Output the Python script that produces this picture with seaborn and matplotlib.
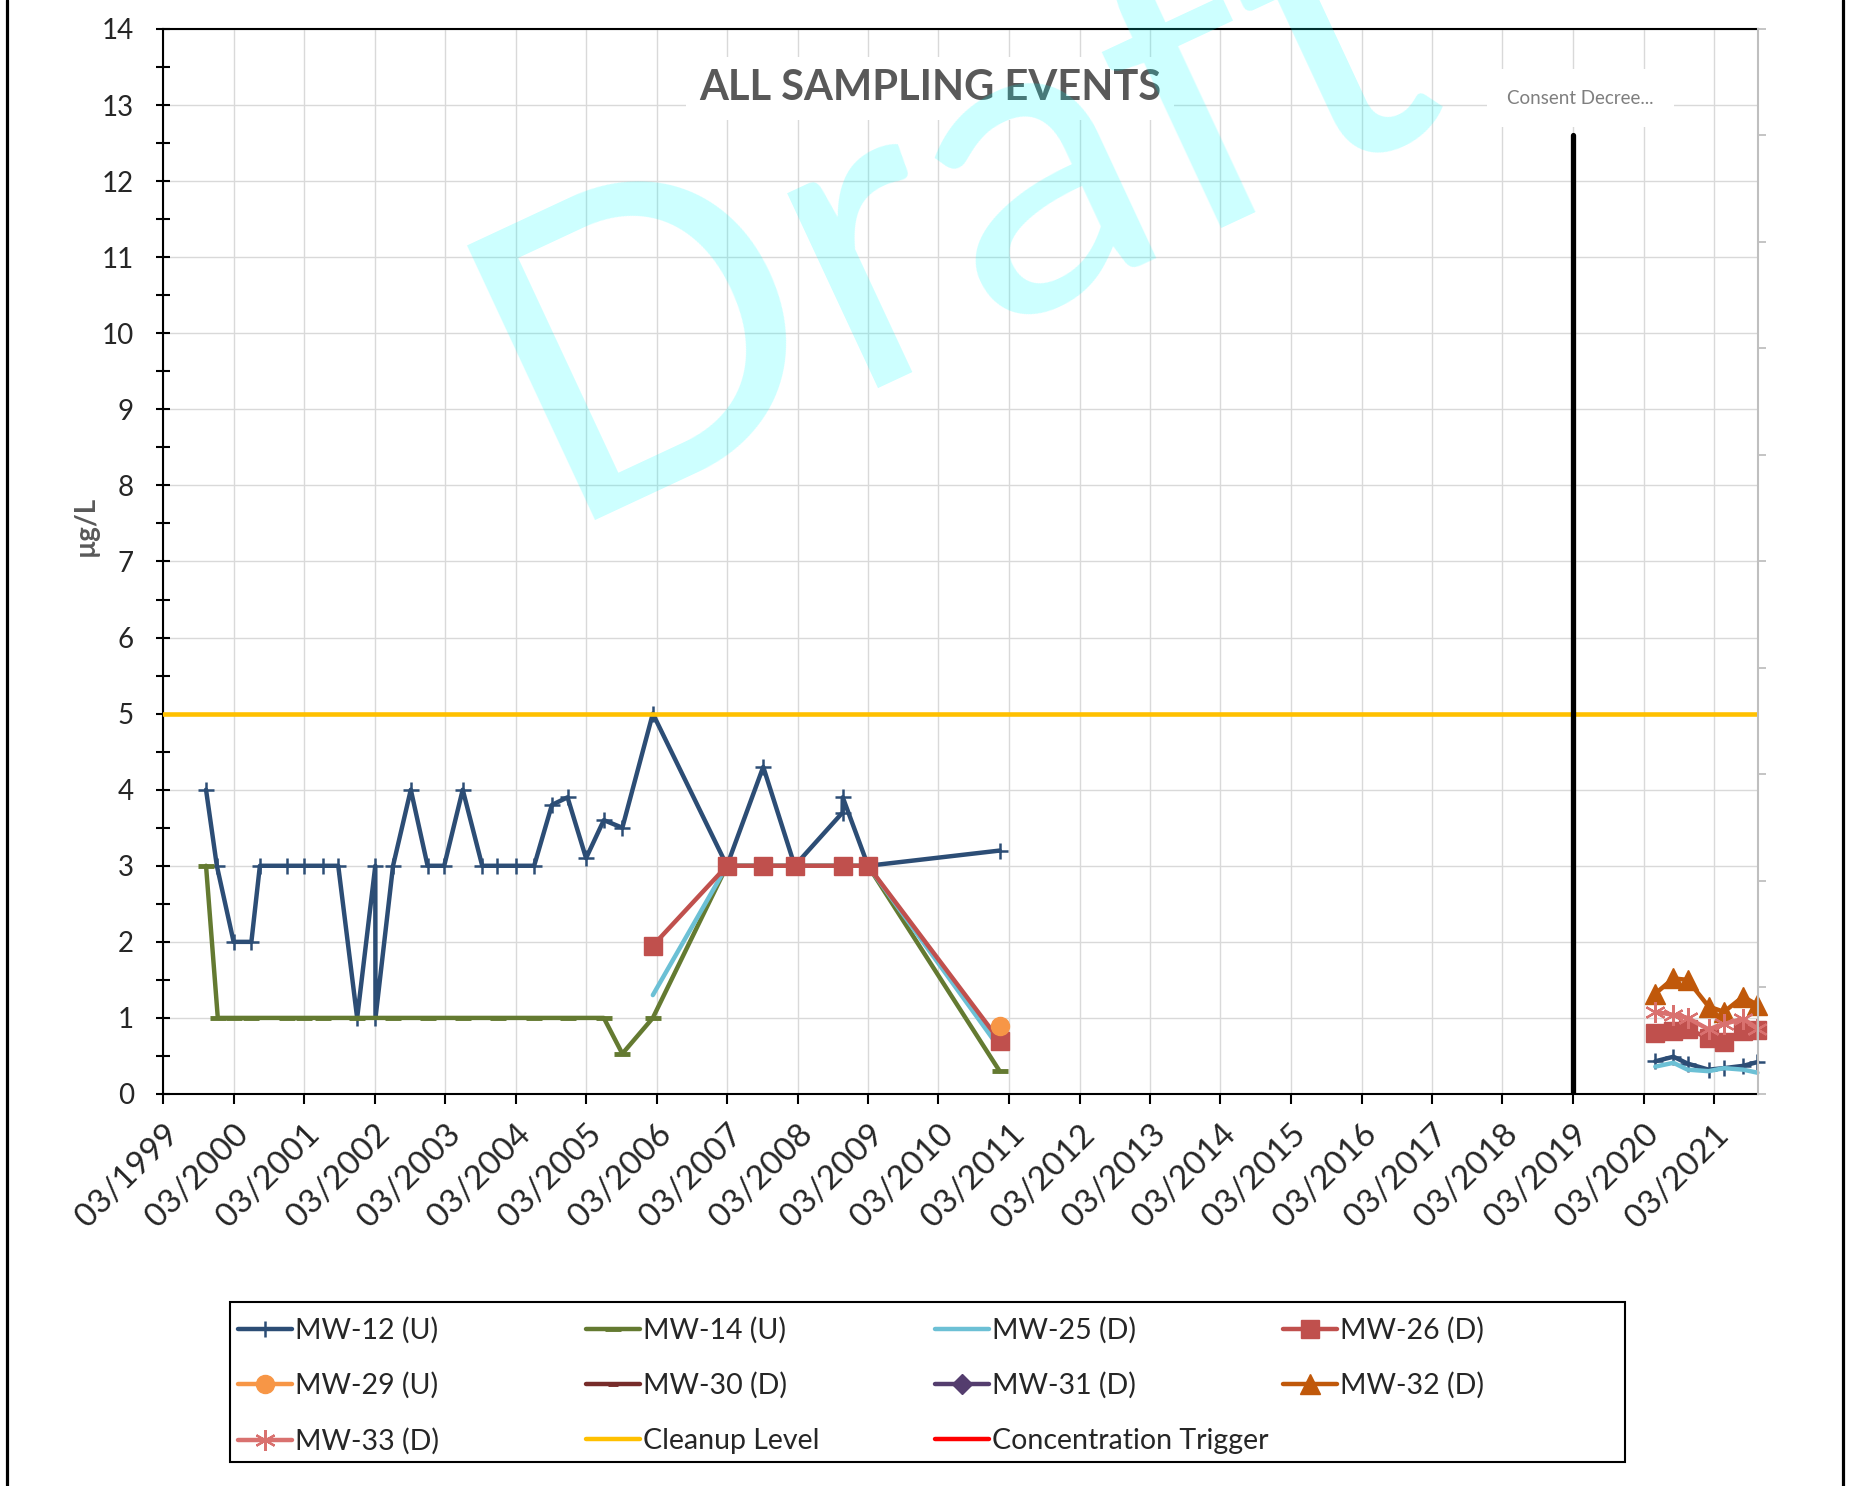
"""
All sampling events - groundwater concentration chart
"""
import numpy as np
import pandas as pd
import matplotlib
matplotlib.use('Agg')
import matplotlib.pyplot as plt
import matplotlib.dates as mdates
from matplotlib.lines import Line2D
from matplotlib.patches import Rectangle
import seaborn as sns

sns.set_theme(style='white')
plt.rcParams['font.family'] = ['Lato', 'DejaVu Sans']

# ---- data ----
mw12_dates = ['1999-10-10', '1999-12-05', '2000-03-01', '2000-06-01', '2000-07-15',
              '2000-12-05', '2001-03-01', '2001-06-05', '2001-08-25', '2001-12-01',
              '2002-03-05', '2002-03-06', '2002-06-05', '2002-09-05', '2002-12-01',
              '2003-02-25', '2003-06-01', '2003-09-10', '2003-11-25', '2004-03-01',
              '2004-06-05', '2004-09-05', '2004-11-25', '2005-03-01', '2005-06-01',
              '2005-09-05', '2006-02-10', '2007-03-01', '2007-09-05', '2008-02-15',
              '2008-10-20', '2008-10-21', '2009-03-01', '2011-01-12']
mw12_values = [4, 3, 2, 2, 3, 3, 3, 3, 3, 1, 3, 1, 3, 4, 3, 3, 4, 3, 3, 3, 3,
               3.8, 3.9, 3.1, 3.6, 3.5, 5.0, 3, 4.3, 3, 3.7, 3.9, 3, 3.2]

mw14_dates = ['1999-10-10', '1999-12-10', '2000-03-01', '2000-06-01', '2000-12-05',
              '2001-03-01', '2001-06-05', '2001-12-01', '2002-06-05', '2002-12-01',
              '2003-06-01', '2003-12-01', '2004-06-05', '2004-11-25', '2005-06-01',
              '2005-09-05', '2006-02-10', '2007-03-01', '2007-09-05', '2008-02-15',
              '2008-10-20', '2009-03-01', '2011-01-12']
mw14_values = [3, 1, 1, 1, 1, 1, 1, 1, 1, 1, 1, 1, 1, 1, 1,
               0.53, 1, 3, 3, 3, 3, 3, 0.3]

mid_dates = ['2006-02-10', '2007-03-01', '2007-09-05', '2008-02-15',
             '2008-10-20', '2009-03-01', '2011-01-12']
mw25_mid = [1.3, 3, 3, 3, 3, 3, 0.6]
mw26_mid = [1.95, 3, 3, 3, 3, 3, 0.7]

mw29_dates = ['2011-01-12']
mw29_values = [0.9]

late_dates = ['2020-05-01', '2020-08-03', '2020-10-15', '2021-02-01',
              '2021-04-22', '2021-07-30', '2021-10-12']
mw12_late = [0.43, 0.49, 0.40, 0.32, 0.34, 0.37, 0.42]
mw25_late = [0.36, 0.41, 0.32, 0.30, 0.34, 0.32, 0.28]
mw26_late = [0.80, 0.83, 0.86, 0.73, 0.69, 0.83, 0.84]
mw32_late = [1.32, 1.52, 1.50, 1.15, 1.08, 1.28, 1.17]
mw33_late = [1.08, 1.04, 1.00, 0.85, 0.92, 0.99, 0.86]

cleanup_level = 5
consent_date = '2019-03-01'
consent_top = 0.9   # secondary axis (0-1)
x_start, x_end = '1999-03-01', '2021-10-15'

colors = {
    'MW-12 (U)': '#2C4D75', 'MW-14 (U)': '#647A31', 'MW-25 (D)': '#6CC0D5',
    'MW-26 (D)': '#C0504D', 'MW-29 (U)': '#F79646', 'MW-30 (D)': '#772C2A',
    'MW-31 (D)': '#543D6E', 'MW-32 (D)': '#C0580A', 'MW-33 (D)': '#D9716F',
    'Cleanup Level': '#FFC000', 'Concentration Trigger': '#FF0000',
}
markers = {
    'MW-12 (U)': ('+', 12, 1.8), 'MW-14 (U)': ('_', 12, 3.5), 'MW-25 (D)': ('', 0, 0),
    'MW-26 (D)': ('s', 13, 1), 'MW-29 (U)': ('o', 13, 1), 'MW-30 (D)': ('_', 7, 3.5),
    'MW-31 (D)': ('D', 10, 1), 'MW-32 (D)': ('^', 14, 1), 'MW-33 (D)': ((6, 2, 0), 15, 1.6),
    'Cleanup Level': ('', 0, 0), 'Concentration Trigger': ('', 0, 0),
}


def series_frame(*segments):
    rows = []
    for i, (dates, vals) in enumerate(segments):
        for d, v in zip(dates, vals):
            rows.append({'date': pd.Timestamp(d), 'value': v, 'segment': i})
    return pd.DataFrame(rows)


series = [
    ('MW-12 (U)', series_frame((mw12_dates, mw12_values), (late_dates, mw12_late))),
    ('MW-14 (U)', series_frame((mw14_dates, mw14_values))),
    ('MW-25 (D)', series_frame((mid_dates, mw25_mid), (late_dates, mw25_late))),
    ('MW-26 (D)', series_frame((mid_dates, mw26_mid), (late_dates, mw26_late))),
    ('MW-29 (U)', series_frame((mw29_dates, mw29_values))),
    ('MW-32 (D)', series_frame((late_dates, mw32_late))),
    ('MW-33 (D)', series_frame((late_dates, mw33_late))),
]

fig = plt.figure(figsize=(18.53, 14.86), dpi=100)
ax = fig.add_axes([0.08796, 0.26380, 0.86077, 0.71669])

for name, df in series:
    m, ms, mew = markers[name]
    sns.lineplot(data=df, x='date', y='value', units='segment', estimator=None,
                 sort=False, ax=ax, color=colors[name], lw=3.2,
                 marker=m if m else None, markersize=ms,
                 markeredgecolor=colors[name], markeredgewidth=mew,
                 legend=False, clip_on=False, zorder=3)

ax.axhline(cleanup_level, color=colors['Cleanup Level'], lw=3.3, zorder=3)

ax.set_xlim(pd.Timestamp(x_start), pd.Timestamp(x_end))
ax.set_ylim(0, 14)
ax.xaxis.set_major_locator(mdates.YearLocator(base=1, month=3, day=1))
ax.xaxis.set_major_formatter(mdates.DateFormatter('%m/%Y'))
ax.yaxis.set_major_locator(plt.MultipleLocator(1))
ax.yaxis.set_minor_locator(plt.MultipleLocator(0.5))
ax.grid(True, which='major', color='#D9D9D9', lw=1)
ax.set_axisbelow(True)
ax.set_xlabel('')
ax.set_ylabel('µg/L', fontsize=20, fontweight='bold', color='#595959')
ax.yaxis.set_label_coords(-0.040, 0.533)

for side in ['left', 'bottom', 'top']:
    ax.spines[side].set_color('black')
    ax.spines[side].set_linewidth(1.5)
ax.spines['right'].set_visible(False)

ax.tick_params(axis='y', which='both', direction='inout', length=10, width=1.5,
               color='black', labelsize=20, pad=16, left=True)
ax.tick_params(axis='x', which='major', direction='out', length=7.2, width=1.5,
               color='black', labelsize=24, pad=11, bottom=True)
for lbl in ax.get_xticklabels():
    lbl.set_rotation(45)
    lbl.set_ha('right')
    lbl.set_rotation_mode('anchor')

# secondary axis carrying the consent decree marker
ax2 = ax.twinx()
ax2.set_ylim(0, 1)
ax2.set_yticks(np.arange(0, 1.01, 0.1))
ax2.set_yticklabels([])
ax2.tick_params(axis='y', direction='out', length=6, width=1.3, color='#BFBFBF', right=True)
for side in ['left', 'bottom', 'top']:
    ax2.spines[side].set_visible(False)
ax2.spines['right'].set_color('#BFBFBF')
ax2.spines['right'].set_linewidth(1.5)
cd = pd.Timestamp(consent_date)
ax2.plot([cd, cd], [0, consent_top], color='black', lw=3.8, solid_capstyle='round')
ax2.set_xlim(pd.Timestamp(x_start), pd.Timestamp(x_end))
ax2.text(cd + pd.Timedelta(days=40), 0.935, 'Consent Decree...', ha='center', va='center',
         fontsize=13.5, color='#7F7F7F',
         bbox=dict(boxstyle='square,pad=1.1', fc='white', ec='none'))

# title
fig.text(930 / 1853, 1 - 88 / 1486, 'ALL SAMPLING EVENTS', ha='center', va='center',
         fontsize=30, fontweight='bold', color='#595959', zorder=4,
         bbox=dict(boxstyle='square,pad=0.3', fc='white', ec='none'))

# watermark
fig.text(0.300, 0.650, 'Draft', rotation=25, rotation_mode='anchor', ha='left',
         va='baseline', fontsize=305, fontweight='normal', color='#00FFFF',
         alpha=0.2, zorder=10)

# legend (4 evenly spaced columns, Excel style)
def handle(name):
    m, ms, mew = markers[name]
    return Line2D([], [], color=colors[name], lw=3.2, marker=m if m else None,
                  markersize=ms, markeredgecolor=colors[name], markeredgewidth=mew)


legend_cols = [
    ['MW-12 (U)', 'MW-29 (U)', 'MW-33 (D)'],
    ['MW-14 (U)', 'MW-30 (D)', 'Cleanup Level'],
    ['MW-25 (D)', 'MW-31 (D)', 'Concentration Trigger'],
    ['MW-26 (D)', 'MW-32 (D)'],
]
col_x = [238, 586, 935, 1283]
for names, x in zip(legend_cols, col_x):
    fig.legend([handle(n) for n in names], names, loc='upper left',
               bbox_to_anchor=(x / 1853, 1 - 1317 / 1486), frameon=False,
               fontsize=20.5, borderpad=0, borderaxespad=0, handlelength=1.9,
               handletextpad=0.1, labelspacing=1.0)
fig.add_artist(Rectangle((230 / 1853, 1 - 1462 / 1486), 1395 / 1853, 160 / 1486,
                         transform=fig.transFigure, fill=False, ec='black', lw=1.5))

# page border
for x in [7 / 1853, 1843 / 1853]:
    fig.add_artist(Line2D([x, x], [0, 1], transform=fig.transFigure, color='black', lw=2.3))

plt.savefig('out.png', dpi=100)
plt.close()
